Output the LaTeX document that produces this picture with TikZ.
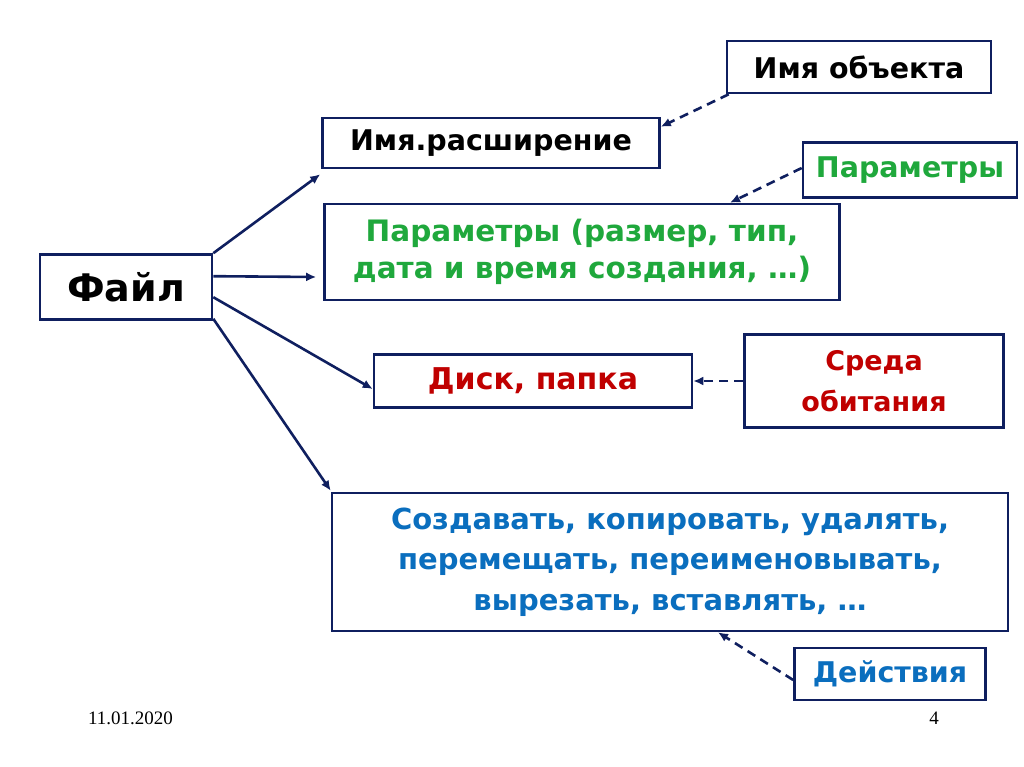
\documentclass[tikz,border=0pt]{standalone}
\usepackage{fontspec}
\setmainfont{DejaVu Sans}
\newfontfamily\footfont{Liberation Serif}
\usetikzlibrary{arrows.meta}
\definecolor{navy}{HTML}{0F1F5F}
\definecolor{grn}{HTML}{1FA83C}
\definecolor{rd}{HTML}{C00000}
\definecolor{bl}{HTML}{0A6EBE}
\tikzset{
  box/.style={draw=navy, line width=2.6pt, fill=white, inner sep=0pt, align=center,
    font=\bfseries\fontsize{28.5}{37}\selectfont},
  link/.style={draw=navy, line width=2.6pt, -{Latex[length=10pt,width=9pt]}},
  dlink/.style={link, dash pattern=on 9pt off 6pt}
}
\begin{document}
\begin{tikzpicture}[x=1pt,y=-1pt]
    \useasboundingbox (0,0) rectangle (1024,767);
    % boxes
    \node [box, minimum width=172pt, minimum height=65pt, font=\bfseries\fontsize{38}{44}\selectfont]
        (file) at (126,287) {Файл};
    \node [box, minimum width=337pt, minimum height=50pt] (name) at (491,143) {Имя.расширение};
    \node [box, minimum width=264pt, minimum height=52pt] (objname) at (859,67) {Имя объекта};
    \node [box, minimum width=214pt, minimum height=55pt, text=grn] (params) at (910,170) {Параметры};
    \node [box, minimum width=515pt, minimum height=96pt, text=grn,
        font=\bfseries\fontsize{29.5}{37}\selectfont]
        (paramlist) at (582,252) {Параметры (размер, тип,\\дата и время создания, …)};
    \node [box, minimum width=318pt, minimum height=53pt, text=rd,
        font=\bfseries\fontsize{30}{37}\selectfont] (disk) at (533,381) {Диск, папка};
    \node [box, minimum width=259pt, minimum height=93pt, text=rd,
        font=\bfseries\fontsize{27}{41}\selectfont] (env) at (874,381) {Среда\\обитания};
    \node [box, minimum width=676pt, minimum height=138pt, text=bl,
        font=\bfseries\fontsize{29}{40.5}\selectfont]
        (ops) at (670,562) {Создавать, копировать, удалять,\\перемещать, переименовывать,\\вырезать, вставлять, …};
    \node [box, minimum width=191pt, minimum height=52pt, text=bl] (actions) at (890,674) {Действия};
    % footer
    \node [font=\footfont\fontsize{19}{20}\selectfont, anchor=west, inner sep=0pt] (date) at (88,718) {11.01.2020};
    \node [font=\footfont\fontsize{19}{20}\selectfont] (page) at (934,718) {4};
    % solid links from the file
    \draw [link] (file.north east) -- ([xshift=-1pt,yshift=-5pt]name.south west);
    \draw [link] ([yshift=-23pt]file.north east) -- ([xshift=-7pt,yshift=-25pt]paramlist.west);
    \draw [link] ([yshift=-44pt]file.north east) -- ([yshift=-8pt]disk.west);
    \draw [link] ([yshift=2pt]file.south east) -- ([yshift=1pt]ops.north west);
    % dashed links
    \draw [dlink] ([xshift=3pt]objname.south west) -- ([yshift=-10pt]name.north east);
    \draw [dlink] ([yshift=2pt]params.west) -- ([xshift=148pt]paramlist.north);
    \draw [dlink] (env.west) -- (disk.east);
    \draw [dlink] ([yshift=-6pt]actions.west) -- ([xshift=48pt]ops.south);
\end{tikzpicture}
\end{document}
